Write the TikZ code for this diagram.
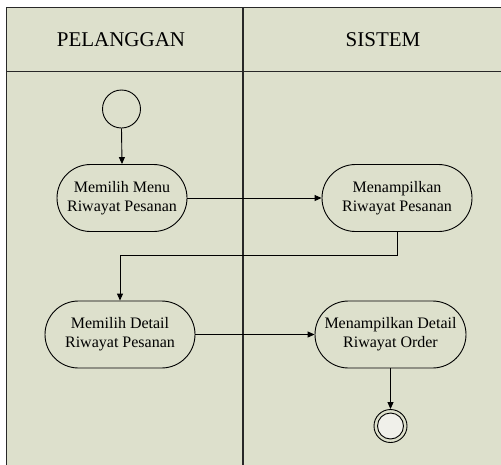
\documentclass[tikz,border=0pt]{standalone}
\usepackage{fontspec}
\setmainfont{Liberation Serif}
\usetikzlibrary{shapes.misc,arrows.meta}
\definecolor{lanebg}{RGB}{221,224,204}
\definecolor{laneline}{RGB}{40,40,40}
\definecolor{endfill}{RGB}{240,240,234}
\tikzset{
  lane/.style={draw=laneline,line width=1.1pt},
  action/.style={rounded rectangle,draw=black,line width=0.9pt,align=center,
    font=\fontsize{16}{19}\selectfont,inner sep=0pt,minimum height=67pt},
  flow/.style={draw=black,line width=0.9pt,-{Triangle[length=7pt,width=6pt]}},
  header/.style={font=\fontsize{21}{24}\selectfont},
}
\begin{document}
\begin{tikzpicture}[x=1pt,y=-1pt]
  \useasboundingbox (0,0) rectangle (501,464);
  \clip (0,0) rectangle (501,464);
  % swimlane frame
  \fill[white] (0,0) rectangle (501,464);
  \fill[lanebg] (6.5,7.5) rectangle (520,480);
  \draw[lane] (520,7.5) -- (6.5,7.5) -- (6.5,480);
  \draw[lane] (6.5,71.5) -- (520,71.5);
  \draw[lane] (243,7.5) -- (243,480);
  \node[header] (hp) at (121,40) {PELANGGAN};
  \node[header] (hs) at (383,40) {SISTEM};
  % start state
  \node[circle,draw=black,line width=0.9pt,minimum size=38pt,inner sep=0pt] (start) at (121.5,109) {};
  % activities
  \node[action,minimum width=130pt] (a1) at (122,198) {Memilih Menu\\Riwayat Pesanan};
  \node[action,minimum width=150pt] (a2) at (397,198) {Menampilkan\\Riwayat Pesanan};
  \node[action,minimum width=150pt] (a3) at (120,334.5) {Memilih Detail\\Riwayat Pesanan};
  \node[action,minimum width=151pt] (a4) at (390.5,334.5) {Menampilkan Detail\\Riwayat Order};
  % final state
  \node[circle,draw=black,line width=0.9pt,minimum size=33pt,inner sep=0pt] (final) at (390.5,426) {};
  \node[circle,draw=black,fill=endfill,line width=0.9pt,minimum size=26pt,inner sep=0pt] (finalin) at (final.center) {};
  % flows
  \draw[flow] (start.south) -- (a1.north);
  \draw[flow] (a1.east) -- (a2.west);
  \coordinate (b1) at (397,255);
  \coordinate (b2) at (120,255);
  \draw[flow] (a2.south) -- (b1) -- (b2) -- (a3.north);
  \draw[flow] (a3.east) -- (a4.west);
  \draw[flow] (a4.south) -- (final.north);
\end{tikzpicture}
\end{document}
